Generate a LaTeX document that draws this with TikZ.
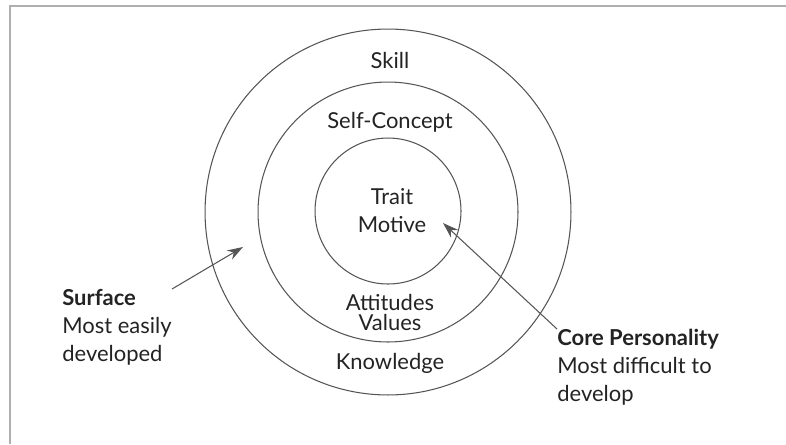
\documentclass[tikz,border=0pt]{standalone}
\usepackage{fontspec}
\setmainfont{Lato}
\usepackage{xcolor}
\definecolor{inkgray}{RGB}{35, 35, 35}
\definecolor{ringgray}{RGB}{85, 85, 85}
\definecolor{framegray}{RGB}{175, 175, 175}
\usetikzlibrary{arrows.meta, positioning}

\begin{document}
\begin{tikzpicture}[
    x=0.02cm, y=-0.02cm,
    ring/.style={circle, draw=ringgray, line width=0.6pt, inner sep=0pt},
    label/.style={font=\fontsize{12.5}{15.9}\selectfont, text=inkgray, inner sep=0pt},
    note/.style={font=\fontsize{12.5}{15.9}\selectfont, text=inkgray, align=left, anchor=north west, inner sep=0pt},
    pointer/.style={draw=ringgray, line width=0.6pt, -{Stealth[length=9pt, width=6pt]}}
]
    \useasboundingbox (0, 0) rectangle (786, 444);

    % Frame
    \draw[framegray, line width=1.6pt] (10, 444) -- (10, 6) -- (786, 6);

    % Rings
    \node[ring, minimum size=7.32cm] (outer) at (388, 212) {};
    \node[ring, minimum size=5.2cm] (middle) at (388, 212) {};
    \node[ring, minimum size=2.92cm] (inner) at (388, 211) {};

    % Ring labels
    \node[label] (skill) at (390, 60) {Skill};
    \node[label] (selfconcept) at (390, 122) {Self-Concept};
    \node[label] (trait) at (392, 197) {Trait};
    \node[label] (motive) at (392, 225) {Motive};
    \node[label] (attitudes) at (390, 302) {Attitudes};
    \node[label] (values) at (390, 322) {Values};
    \node[label] (knowledge) at (390, 363) {Knowledge};

    % Notes
    \node[note] (surface) at (62, 289) {\textbf{Surface}\\Most easily\\developed};
    \node[note] (core) at (557, 329) {\textbf{Core Personality}\\Most difficult to\\develop};

    % Pointers
    \coordinate (surfacetip) at (243, 247);
    \coordinate (coretip) at (443, 223);
    \draw[pointer] (surface.north east) -- (surfacetip);
    \draw[pointer] (core.north west) -- (coretip);
\end{tikzpicture}
\end{document}
